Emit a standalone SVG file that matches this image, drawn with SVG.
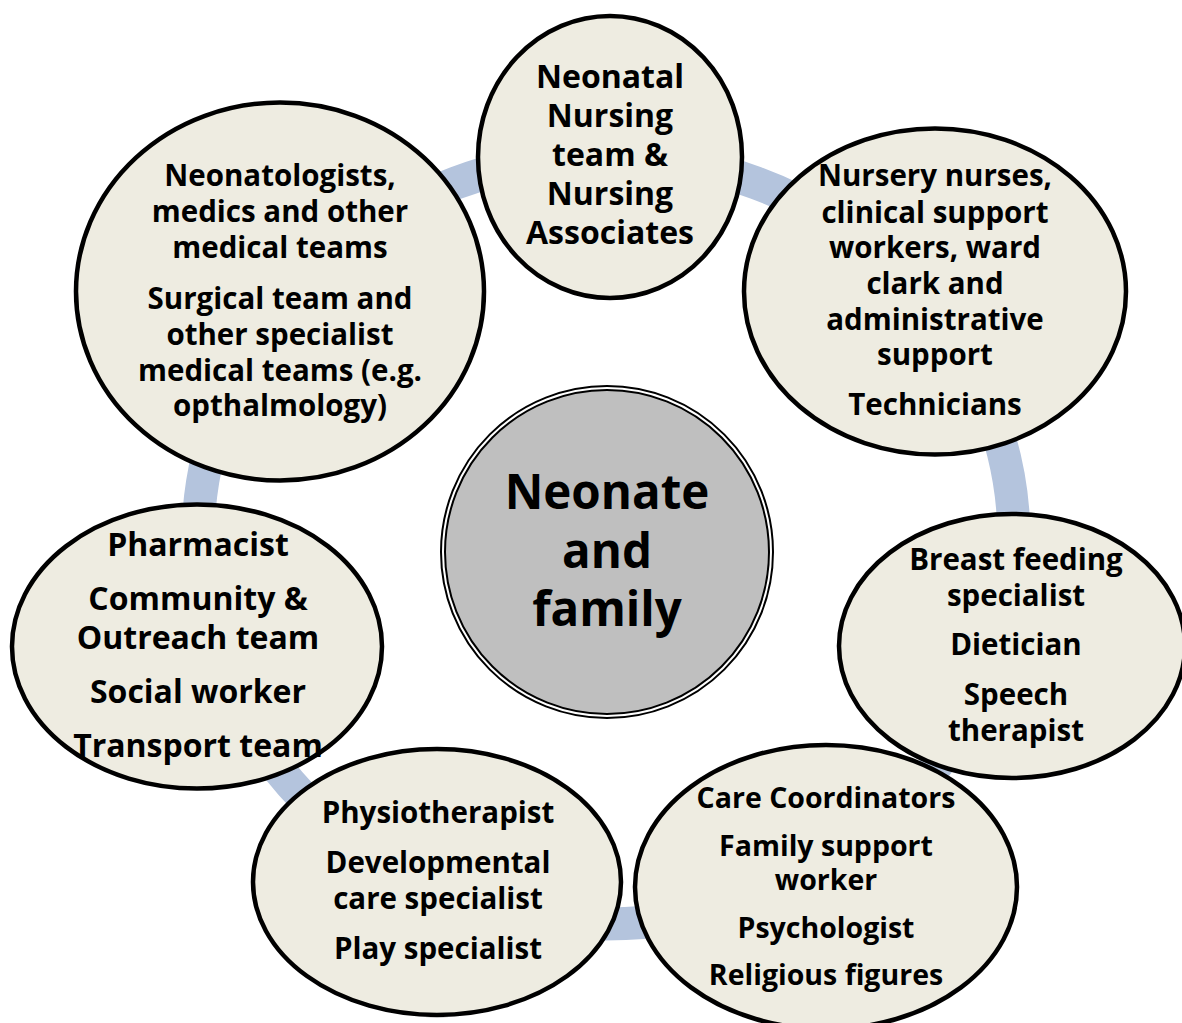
<svg xmlns="http://www.w3.org/2000/svg" width="1182" height="1023" viewBox="0 0 1182 1023">
  <style>
    .node { fill: #eeece1; stroke: #000000; stroke-width: 4.5; }
    .lbl { font-family: "Open Sans", "Noto Sans", "Liberation Sans", sans-serif; font-weight: bold; fill: #000000; text-anchor: middle; }
    .ring { fill: none; stroke: #b4c4dd; stroke-width: 33; }
  </style>
  <rect x="0" y="0" width="1182" height="1023" fill="#ffffff"/>

  <!-- cycle ring linking the team nodes -->
  <g id="connectors">
    <ellipse class="ring" cx="606" cy="540" rx="408" ry="384"/>
  </g>

  <!-- centre: neonate and family -->
  <g id="node-centre">
    <circle cx="607" cy="552" r="164" fill="#bfbfbf" stroke="#000000" stroke-width="6"/>
    <circle cx="607" cy="552" r="164" fill="none" stroke="#ffffff" stroke-width="2"/>
    <text class="lbl" font-size="47.5" x="607" y="509">Neonate</text>
    <text class="lbl" font-size="47.5" x="607" y="568">and</text>
    <text class="lbl" font-size="47.5" x="607" y="626">family</text>
  </g>

  <g id="node-nursing">
    <ellipse class="node" cx="610" cy="157" rx="132" ry="141"/>
    <g class="lbl" font-size="32">
      <text x="610" y="88">Neonatal</text>
      <text x="610" y="127">Nursing</text>
      <text x="610" y="166">team &amp;</text>
      <text x="610" y="205">Nursing</text>
      <text x="610" y="244">Associates</text>
    </g>
  </g>

  <g id="node-support">
    <ellipse class="node" cx="935" cy="291.5" rx="191" ry="163"/>
    <g class="lbl" font-size="29.5">
      <text x="935" y="186">Nursery nurses,</text>
      <text x="935" y="223">clinical support</text>
      <text x="935" y="258">workers, ward</text>
      <text x="935" y="294">clark and</text>
      <text x="935" y="330">administrative</text>
      <text x="935" y="365">support</text>
      <text x="935" y="415">Technicians</text>
    </g>
  </g>

  <g id="node-feeding">
    <ellipse class="node" cx="1012" cy="646" rx="173" ry="132"/>
    <g class="lbl" font-size="29.5">
      <text x="1016" y="570">Breast feeding</text>
      <text x="1016" y="606">specialist</text>
      <text x="1016" y="655">Dietician</text>
      <text x="1016" y="705">Speech</text>
      <text x="1016" y="741">therapist</text>
    </g>
  </g>

  <g id="node-family-support">
    <ellipse class="node" cx="826" cy="887" rx="191" ry="142"/>
    <g class="lbl" font-size="28.5">
      <text x="826" y="808">Care Coordinators</text>
      <text x="826" y="856">Family support</text>
      <text x="826" y="890">worker</text>
      <text x="826" y="938">Psychologist</text>
      <text x="826" y="985">Religious figures</text>
    </g>
  </g>

  <g id="node-therapy">
    <ellipse class="node" cx="437" cy="882" rx="184" ry="133"/>
    <g class="lbl" font-size="29.5">
      <text x="438" y="823">Physiotherapist</text>
      <text x="438" y="873">Developmental</text>
      <text x="438" y="909">care specialist</text>
      <text x="438" y="959">Play specialist</text>
    </g>
  </g>

  <g id="node-community">
    <ellipse class="node" cx="197" cy="646.5" rx="185" ry="142"/>
    <g class="lbl" font-size="32">
      <text x="198" y="556">Pharmacist</text>
      <text x="198" y="610">Community &amp;</text>
      <text x="198" y="649">Outreach team</text>
      <text x="198" y="703">Social worker</text>
      <text x="198" y="757">Transport team</text>
    </g>
  </g>

  <g id="node-medical">
    <ellipse class="node" cx="280" cy="291.5" rx="204" ry="189"/>
    <g class="lbl" font-size="29.5">
      <text x="280" y="186">Neonatologists,</text>
      <text x="280" y="222">medics and other</text>
      <text x="280" y="258">medical teams</text>
      <text x="280" y="309">Surgical team and</text>
      <text x="280" y="345">other specialist</text>
      <text x="280" y="381">medical teams (e.g.</text>
      <text x="280" y="416">opthalmology)</text>
    </g>
  </g>
</svg>
